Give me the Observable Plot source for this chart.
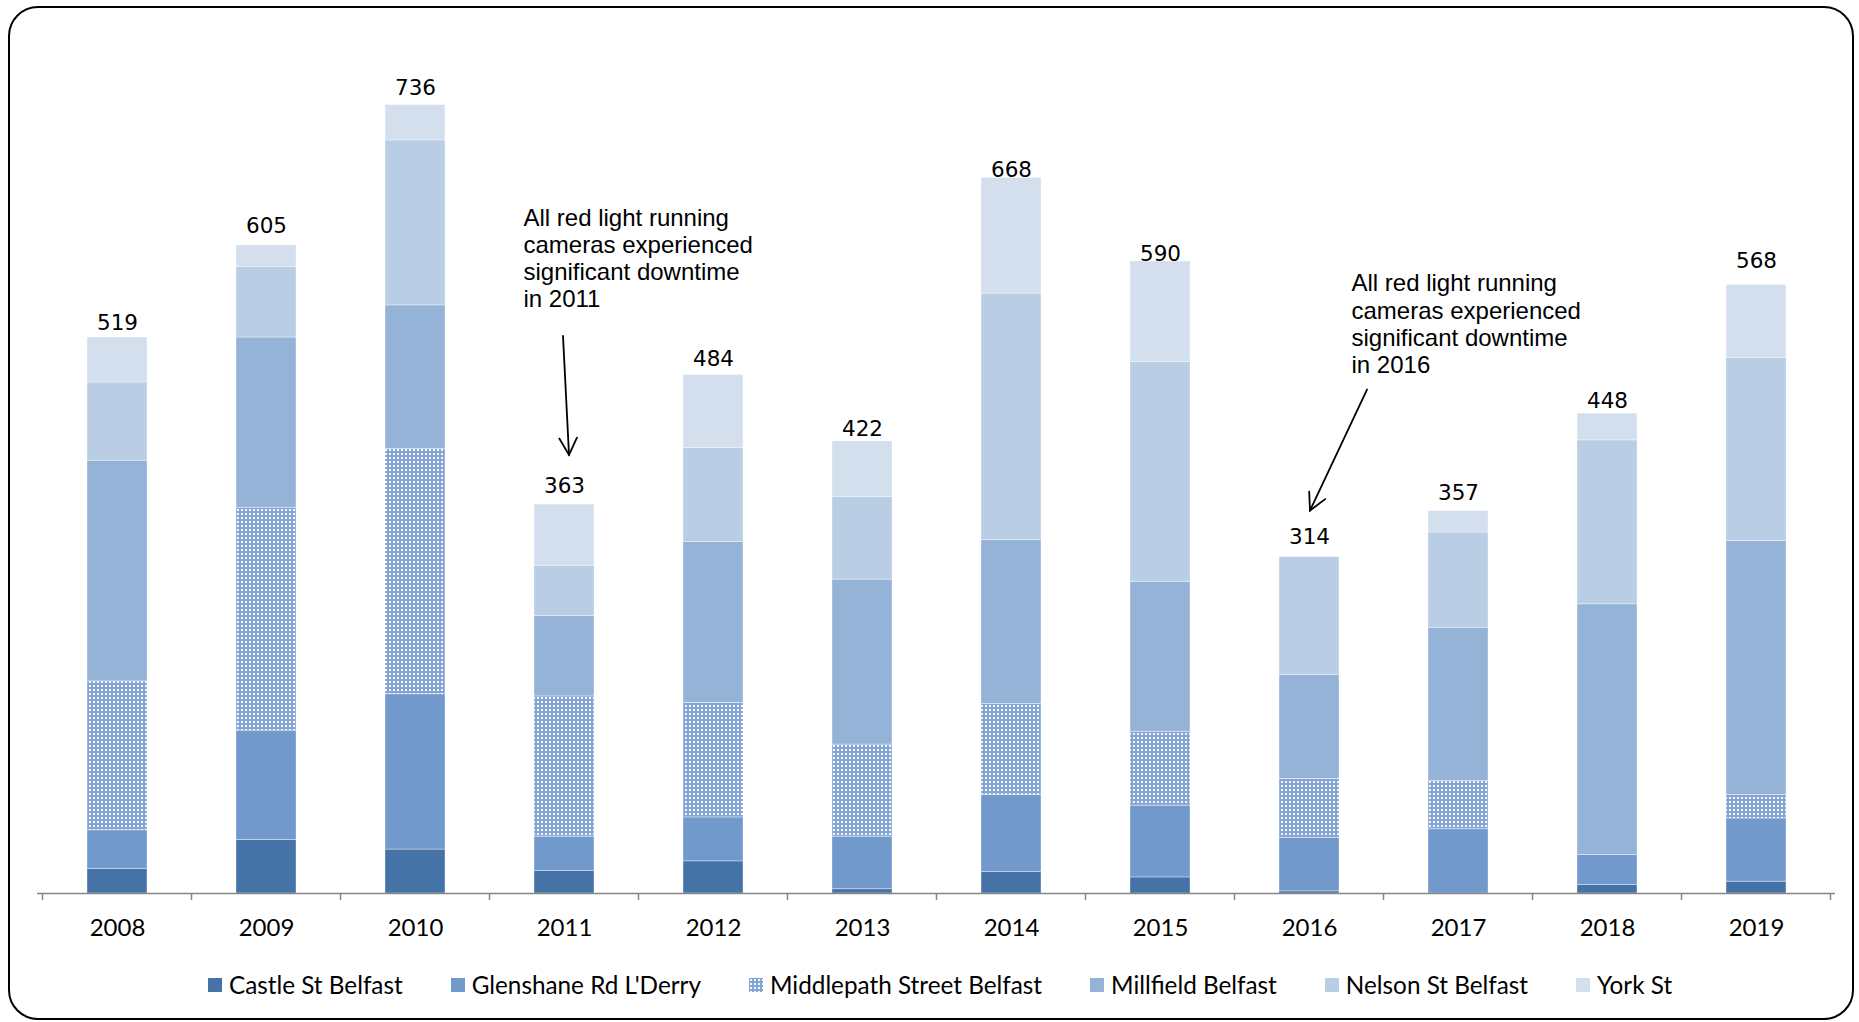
<!DOCTYPE html>
<html><head><meta charset="utf-8">
<script src="https://cdn.jsdelivr.net/npm/d3@7"></script>
<script src="https://cdn.jsdelivr.net/npm/@observablehq/plot@0.6"></script>
<style>
html,body{margin:0;padding:0;background:#fff;width:1859px;height:1022px;overflow:hidden;}
#frame{position:absolute;left:8px;top:6px;width:1846px;height:1014px;box-sizing:border-box;border:2.5px solid #000;border-radius:30px;pointer-events:none;}
#chart{position:absolute;left:0;top:0;}
#legend{position:absolute;left:0;top:970px;width:1880px;display:flex;justify-content:center;gap:48px;font-family:Lato,sans-serif;font-size:24.3px;color:#000;line-height:30px;}
.item{display:flex;align-items:center;}
.item svg{margin-right:7px;}
</style></head><body>
<div id="chart"></div><div id="legend"></div><div id="frame"></div>
<script>
const years = ["2008","2009","2010","2011","2012","2013","2014","2015","2016","2017","2018","2019"];
const seriesNames = ["Castle St Belfast","Glenshane Rd L'Derry","Middlepath Street Belfast","Millfield Belfast","Nelson St Belfast","York St"];
const castle     = [23, 50, 41, 21, 30, 4, 20, 15, 2, 0, 8, 11];
const glenshane  = [36, 102, 145, 32, 41, 49, 72, 67, 50, 60, 28, 59];
const middlepath = [139, 208, 229, 131, 107, 86, 85, 69, 55, 45, 0, 22];
const millfield  = [206, 159, 134, 75, 150, 154, 153, 140, 97, 143, 234, 237];
const nelson     = [73, 66, 154, 47, 88, 77, 230, 205, 110, 89, 153, 171];
const york       = [42, 20, 33, 57, 68, 52, 108, 94, 0, 20, 25, 68];
const totals     = [519, 605, 736, 363, 484, 422, 668, 590, 314, 357, 448, 568];
const annotationTexts = [
  "All red light running\ncameras experienced\nsignificant downtime\nin 2011",
  "All red light running\ncameras experienced\nsignificant downtime\nin 2016"
];
const annotationYears = ["2011", "2016"];

const colors = ["#4572a7", "#7199cb", "url(#mp-pattern)", "#95b3d7", "#b9cde5", "#d4dfee"];

// layout: how far (px) each total label's centre sits above its bar, as placed in the original
const labelLift = [15.5, 20, 18, 19, 16.5, 13, 8.5, 8.5, 21, 19, 13, 25];

const seriesValues = [castle, glenshane, middlepath, millfield, nelson, york];
const rows = [];
seriesNames.forEach((s, si) => years.forEach((yr, i) => rows.push({year: yr, series: s, value: seriesValues[si][i]})));
const totalRows = years.map((yr, i) => ({year: yr, total: totals[i]}));

// annotation layout (anchored in data space, offsets in px)
const annotations = [
  {year: annotationYears[0], value: 641, dx: -41, text: annotationTexts[0]},
  {year: annotationYears[1], value: 580, dx: 42, text: annotationTexts[1]}
];
const arrows = [
  {year: annotationYears[0], fromValue: 520, fromDx: -1, toValue: 409, toDx: 5},
  {year: annotationYears[1], fromValue: 470, fromDx: 58, toValue: 357, toDx: 1}
];

function addPattern(sel, id) {
  const p = sel.append("pattern").attr("id", id).attr("patternUnits", "userSpaceOnUse").attr("width", 4).attr("height", 4);
  p.append("rect").attr("width", 4).attr("height", 4).attr("fill", "#84a5d4");
  p.append("rect").attr("x", 1).attr("y", 1).attr("width", 2).attr("height", 2).attr("fill", "#f4f7fc");
}
function patternDefs() {
  const defs = d3.create("svg:defs");
  addPattern(defs, "mp-pattern");
  return defs.node();
}
function bandInfo(sx) {
  const bw = typeof sx.bandwidth === "function" ? sx.bandwidth() : (sx.bandwidth || 0);
  const step = typeof sx.step === "function" ? sx.step() : (sx.step || bw);
  return {bw, step};
}
function boundaryTicks(index, scales) {
  const sx = scales.x, sy = scales.y;
  const {bw, step} = bandInfo(sx);
  const y0 = sy(0);
  const g = d3.create("svg:g").attr("stroke", "#868686").attr("stroke-width", 1.5);
  const xs = years.map(yr => sx(yr) + bw / 2 - step / 2);
  xs.push(sx(years[years.length - 1]) + bw / 2 + step / 2);
  for (const x of xs) g.append("line").attr("x1", x).attr("x2", x).attr("y1", y0).attr("y2", y0 + 7);
  return g.node();
}
function arrowMark(index, scales) {
  const sx = scales.x, sy = scales.y;
  const {bw} = bandInfo(sx);
  const g = d3.create("svg:g").attr("stroke", "#000").attr("stroke-width", 1.8).attr("fill", "none").attr("stroke-linecap", "round");
  for (const a of arrows) {
    const x1 = sx(a.year) + bw / 2 + a.fromDx, y1 = sy(a.fromValue);
    const x2 = sx(a.year) + bw / 2 + a.toDx, y2 = sy(a.toValue);
    g.append("line").attr("x1", x1).attr("y1", y1).attr("x2", x2).attr("y2", y2);
    const ang = Math.atan2(y2 - y1, x2 - x1), L = 19, spread = Math.PI / 6.5;
    const p1 = [x2 - L * Math.cos(ang - spread), y2 - L * Math.sin(ang - spread)];
    const p2 = [x2 - L * Math.cos(ang + spread), y2 - L * Math.sin(ang + spread)];
    g.append("polyline").attr("points", `${p1} ${x2},${y2} ${p2}`);
  }
  return g.node();
}

const plot = Plot.plot({
  width: 1859, height: 950,
  marginLeft: 37, marginRight: 24, marginTop: 36, marginBottom: 57,
  style: {background: "transparent", fontFamily: "Lato, sans-serif", fontSize: "24px", color: "#000"},
  x: {domain: years, paddingInner: 0.6, paddingOuter: 0.3, label: null, tickSize: 0, tickPadding: 25},
  y: {domain: [0, 800], axis: null},
  color: {domain: seriesNames, range: colors},
  marks: [
    patternDefs,
    Plot.barY(rows, Plot.stackY({x: "year", y: "value", fill: "series", stroke: "#ffffff", strokeOpacity: 0.45, strokeWidth: 0.8})),
    Plot.ruleY([0], {stroke: "#868686", strokeWidth: 1.5}),
    boundaryTicks,
    ...totalRows.map((d, i) => Plot.text([d], {x: "year", y: "total", text: r => String(r.total), dy: -(labelLift[i] - 7.8), lineAnchor: "bottom", fontSize: 21.5, fontFamily: "DejaVu Sans", fill: "#000"})),
    ...annotations.map(a => Plot.text([a], {x: "year", y: "value", dx: a.dx, text: "text", textAnchor: "start", lineAnchor: "top", fontSize: 24, lineHeight: 1.13, fontFamily: "Liberation Sans", fill: "#000"})),
    arrowMark
  ]
});
document.getElementById("chart").appendChild(plot);

// legend
const legend = d3.select("#legend");
seriesNames.forEach((name, i) => {
  const item = legend.append("div").attr("class", "item");
  const s = item.append("svg").attr("width", 14).attr("height", 14);
  let fill = colors[i];
  if (fill.startsWith("url")) {
    addPattern(s.append("defs"), "mp-pattern-legend");
    fill = "url(#mp-pattern-legend)";
  }
  s.append("rect").attr("width", 14).attr("height", 14).attr("fill", fill);
  item.append("span").text(name);
});
</script>
</body></html>
